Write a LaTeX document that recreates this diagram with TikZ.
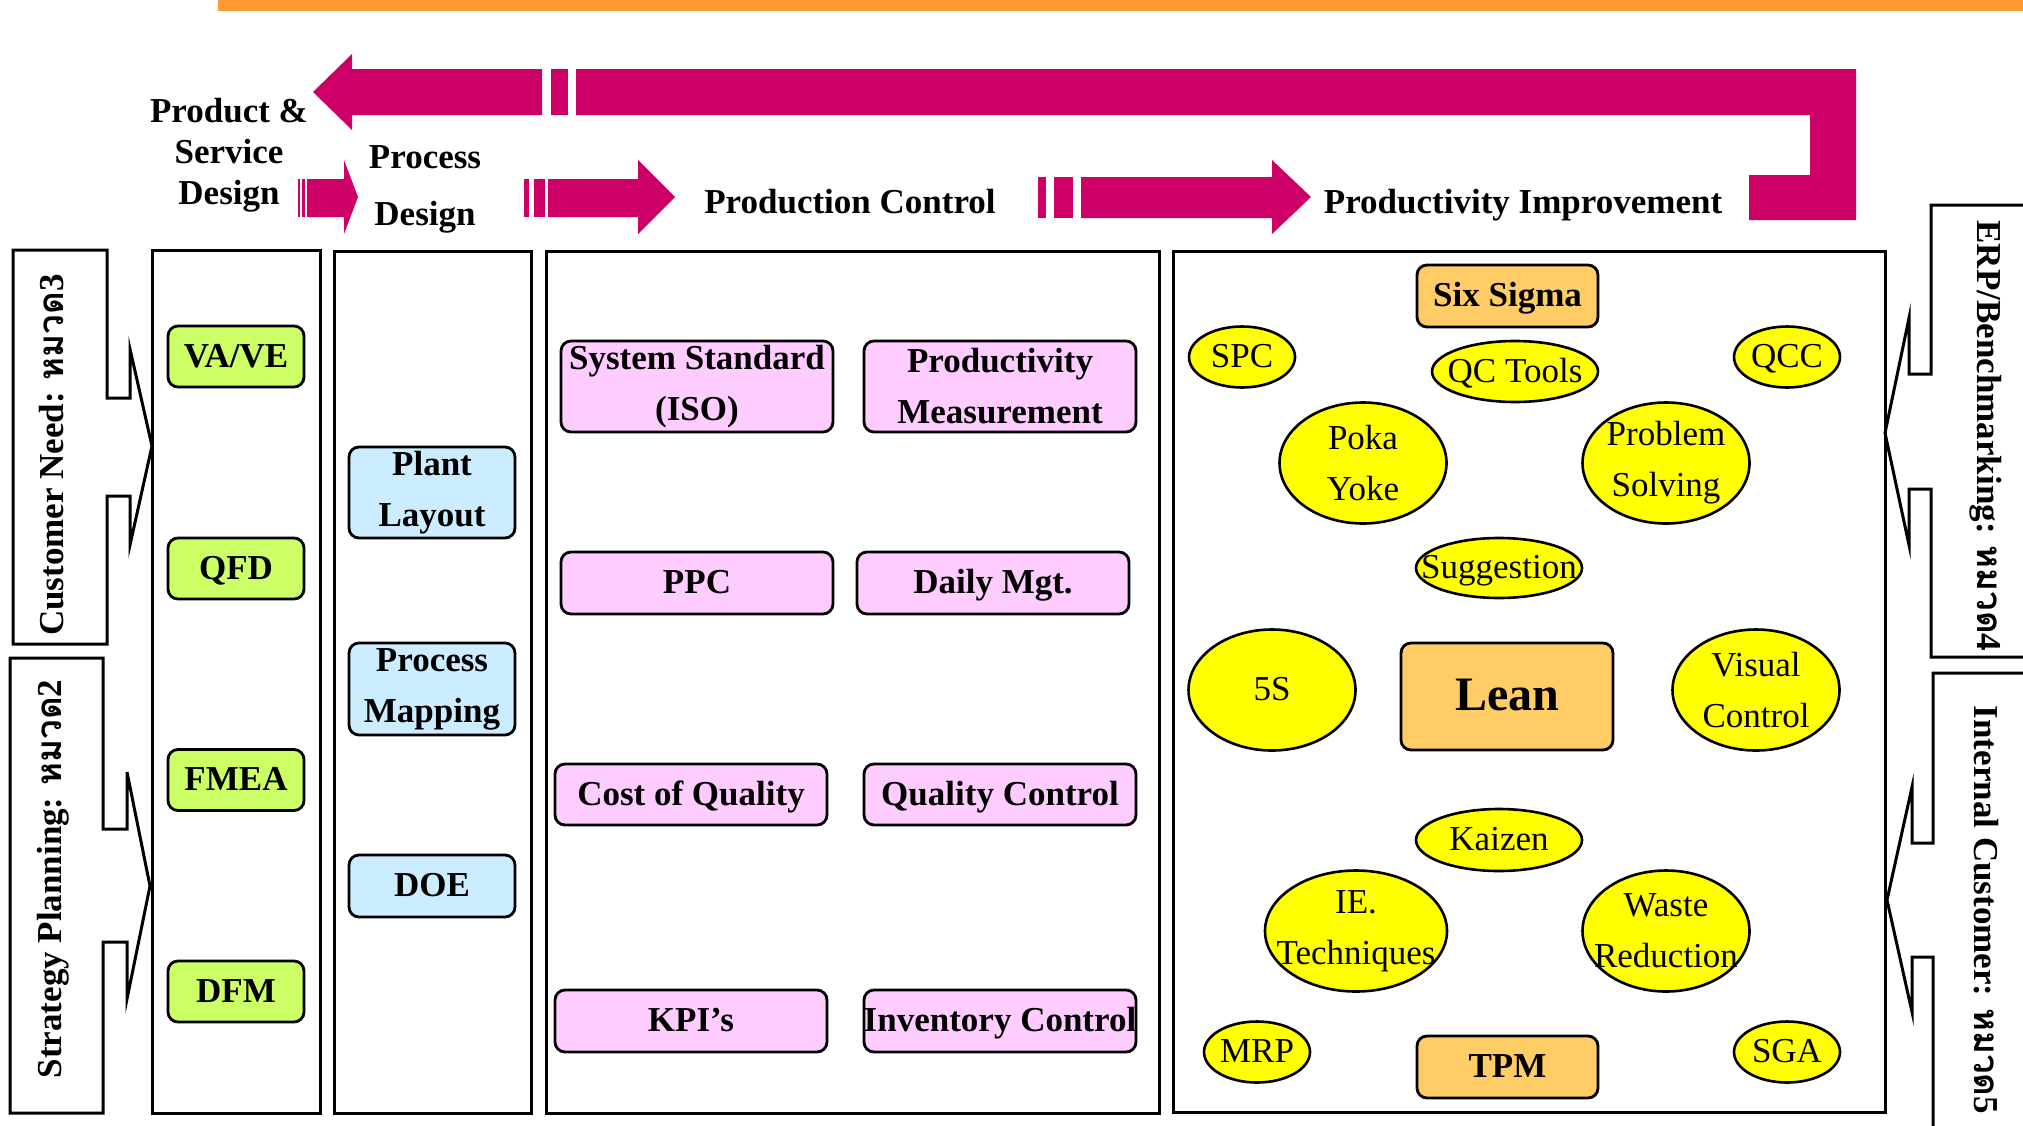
\documentclass[tikz,border=0pt]{standalone}
\usepackage{fontspec}
\setmainfont{Liberation Serif}
\newfontfamily\thaifont[Script=Thai]{Loma}
\usetikzlibrary{shapes.geometric}

\definecolor{barorange}{HTML}{FF9933}
\definecolor{flowred}{HTML}{CC0066}
\definecolor{fillgreen}{HTML}{CCFF66}
\definecolor{fillblue}{HTML}{CCECFF}
\definecolor{fillpink}{HTML}{FFCCFF}
\definecolor{fillorange}{HTML}{FFCC66}
\definecolor{fillyellow}{HTML}{FFFF00}

% zero-width line, so the oval keeps its own size and the text may overhang it
\newcommand{\zw}[1]{\makebox[0pt][c]{#1}}

\begin{document}
\begin{tikzpicture}[x=0.5pt,y=-0.5pt,
  hdr/.style={font=\fontsize{17.5}{20.5}\selectfont\bfseries, align=center, inner sep=0pt},
  sidetext/.style={font=\fontsize{17.5}{20}\selectfont\bfseries, inner sep=0pt},
  column/.style={draw, line width=1.5pt, inner sep=0pt},
  callout/.style={draw, line width=1.5pt, line join=miter},
  oneline/.style={text height=12.25pt, text depth=1.75pt},
  roundbox/.style={draw, line width=1.4pt, rounded corners=5pt, inner sep=0pt,
    font=\fontsize{17.5}{25.5}\selectfont\bfseries, align=center},
  gbox/.style={roundbox, oneline, fill=fillgreen, minimum width=68pt, minimum height=30.5pt},
  bbox/.style={roundbox, fill=fillblue, minimum width=83pt},
  pbox/.style={roundbox, fill=fillpink, minimum width=136pt},
  obox/.style={roundbox, oneline, fill=fillorange},
  ovalnode/.style={ellipse, draw, line width=1.3pt, fill=fillyellow, inner sep=0pt,
    font=\fontsize{17.5}{25.5}\selectfont, align=center},
  smalloval/.style={ovalnode, oneline, minimum width=53pt, minimum height=30.5pt},
  wideoval/.style={ovalnode, oneline, minimum width=83pt, minimum height=30.5pt},
  bigoval/.style={ovalnode, minimum width=83.5pt, minimum height=60.5pt},
  flow/.style={fill=flowred}
]
\fill[white] (0,0) rectangle (2023,1125);
\useasboundingbox (0,0) rectangle (2023,1125);

% top rule
\fill[barorange] (218,0) rectangle (2023,11);

% feedback band from the last stage back to the first
\fill[flow] (313,92) -- (352,54) -- (352,69) -- (542,69) -- (542,115) -- (352,115) -- (352,130) -- cycle;
\fill[flow] (551,69) rectangle (568,115);
\fill[flow] (576,69) -- (1856,69) -- (1856,220) -- (1749,220) -- (1749,175) -- (1810,175) -- (1810,115) -- (576,115) -- cycle;

% forward stage arrows
\fill[flow] (298,179) rectangle (300,217);
\fill[flow] (302,179) rectangle (305,217);
\fill[flow] (307,179) -- (344,179) -- (344,160) -- (358,197) -- (344,234) -- (344,217) -- (307,217) -- cycle;

\fill[flow] (524,179) rectangle (529,217);
\fill[flow] (534,179) rectangle (545,217);
\fill[flow] (548,179) -- (638,179) -- (638,160) -- (675,197) -- (638,234) -- (638,217) -- (548,217) -- cycle;

\fill[flow] (1038,177) rectangle (1046,218);
\fill[flow] (1054,177) rectangle (1073,218);
\fill[flow] (1081,177) -- (1272,177) -- (1272,160) -- (1311,197) -- (1272,234) -- (1272,218) -- (1081,218) -- cycle;

% stage headings (base anchor sits on the last line)
\node[hdr, anchor=base] (psd) at (229,204) {Product \&\\Service\\Design};
\node[hdr, anchor=base, font=\fontsize{17.5}{28.5}\selectfont\bfseries] (pd) at (425,225) {Process\\Design};
\node[hdr, anchor=base] (pc) at (850,213) {Production Control};
\node[hdr, anchor=base] (pimp) at (1523,213) {Productivity Improvement};

% stage columns
\node[column, minimum width=84pt, minimum height=431.5pt] (col1) at (236,681.5) {};
\node[column, minimum width=98.5pt, minimum height=431pt] (col2) at (432.5,682) {};
\node[column, minimum width=306.5pt, minimum height=431pt] (col3) at (852.5,682) {};
\node[column, minimum width=356pt, minimum height=430.5pt] (col4) at (1529,681.5) {};

% input callouts on the left
\draw[callout] (13,250) -- (107,250) -- (107,398) -- (130,398) -- (130,349) -- (152,446)
  -- (130,545) -- (130,496) -- (107,496) -- (107,644) -- (13,644) -- cycle;
\node[sidetext, rotate=90] (custneed) at (52,455) {Customer Need: {\thaifont\bfseries หมวด}3};

\draw[callout] (10,658) -- (103,658) -- (103,829) -- (127,829) -- (127,772) -- (150,886)
  -- (127,999) -- (127,942) -- (103,942) -- (103,1113) -- (10,1113) -- cycle;
\node[sidetext, rotate=90] (strategy) at (53,879) {Strategy Planning: {\thaifont\bfseries หมวด}2};

% input callouts on the right
\draw[callout] (2045,205) -- (1931,205) -- (1931,374) -- (1909,374) -- (1909,318) -- (1885,433)
  -- (1909,545) -- (1909,489) -- (1931,489) -- (1931,657) -- (2045,657);
\node[sidetext, rotate=-90] (erp) at (1986,436) {ERP/Benchmarking: {\thaifont\bfseries หมวด}4};

\draw[callout] (2045,673) -- (1933,673) -- (1933,843) -- (1912,843) -- (1912,787) -- (1887,900)
  -- (1912,1012) -- (1912,957) -- (1933,957) -- (1933,1145);
\node[sidetext, rotate=-90] (internal) at (1986,910) {Internal Customer: {\thaifont\bfseries หมวด}5};

% product & service design tools
\node[gbox] (vave) at (236,356.5) {VA/VE};
\node[gbox] (qfd) at (236,568.5) {QFD};
\node[gbox] (fmea) at (236,780) {FMEA};
\node[gbox] (dfm) at (236,991.5) {DFM};

% process design tools
\node[bbox, minimum height=45.5pt] (layout) at (432,492.5) {Plant\\Layout};
\node[bbox, minimum height=46pt] (mapping) at (432,689) {Process\\Mapping};
\node[bbox, oneline, minimum height=31pt] (doe) at (432,886) {DOE};

% production control tools
\node[pbox, minimum height=45.5pt] (iso) at (697,386.5) {System Standard\\(ISO)};
\node[pbox, minimum height=45.5pt] (measure) at (1000,386.5) {Productivity\\Measurement};
\node[pbox, oneline, minimum height=31pt] (ppc) at (697,583) {PPC};
\node[pbox, oneline, minimum height=31pt] (daily) at (993,583) {Daily Mgt.};
\node[pbox, oneline, minimum height=30.5pt] (coq) at (691,794.5) {Cost of Quality};
\node[pbox, oneline, minimum height=30.5pt] (qctrl) at (1000,794.5) {Quality Control};
\node[pbox, oneline, minimum height=31pt] (kpi) at (691,1021) {KPI’s};
\node[pbox, oneline, minimum height=31pt] (inventory) at (1000,1021) {\zw{Inventory Control}};

% productivity improvement tools
\node[obox, minimum width=90.5pt, minimum height=31pt] (sixsigma) at (1507.5,296) {Six Sigma};
\node[obox, minimum width=106pt, minimum height=53.5pt, font=\fontsize{24}{28}\selectfont\bfseries,
  text height=16.8pt, text depth=2.4pt] (lean) at (1507,696.5) {Lean};
\node[obox, minimum width=90.5pt, minimum height=31pt] (tpm) at (1507.5,1067) {TPM};

\node[smalloval] (spc) at (1242,357) {\zw{SPC}};
\node[wideoval] (qctools) at (1515,371.5) {\zw{QC Tools}};
\node[smalloval] (qcc) at (1787,357) {\zw{QCC}};
\node[bigoval] (pokayoke) at (1363,463) {\zw{Poka}\\\zw{Yoke}};
\node[bigoval] (problem) at (1666,463) {\zw{Problem}\\\zw{Solving}};
\node[wideoval, minimum height=30pt] (suggestion) at (1499,568) {\zw{Suggestion}};
\node[bigoval, oneline] (fives) at (1272,690) {\zw{5S}};
\node[bigoval] (visual) at (1756,690) {\zw{Visual}\\\zw{Control}};
\node[wideoval, minimum height=31pt] (kaizen) at (1499,840) {\zw{Kaizen}};
\node[bigoval, minimum width=91pt] (ietech) at (1356,931) {\zw{IE.}\\\zw{Techniques}};
\node[bigoval] (waste) at (1666,931) {\zw{Waste}\\\zw{Reduction}};
\node[smalloval] (mrp) at (1257,1052) {\zw{MRP}};
\node[smalloval] (sga) at (1787,1052) {\zw{SGA}};
\end{tikzpicture}
\end{document}
